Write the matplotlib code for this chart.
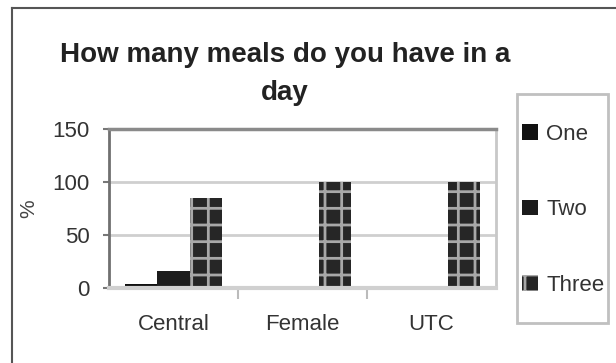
import matplotlib.pyplot as plt
import numpy as np
from matplotlib.lines import Line2D
from matplotlib.patches import Rectangle

plt.rcParams['font.family'] = ['Liberation Sans', 'DejaVu Sans']
plt.rcParams['hatch.linewidth'] = 2.0

groups = ['Central', 'Female', 'UTC']
series = ['One', 'Two', 'Three']
one = [4, 0, 0]
two = [16, 0, 0]
three = [85, 100, 100]
yticks = [0, 50, 100, 150]

fig = plt.figure(figsize=(6.16, 3.63), dpi=100)
ax = fig.add_axes([109 / 616, 75 / 363, 387 / 616, 159 / 363])

x = np.arange(len(groups))
w = 0.25
b1 = ax.bar(x - w, one, w, color='#111111', label='One')
b2 = ax.bar(x, two, w, color='#1c1c1c', label='Two')
b3 = ax.bar(x + w, three, w, color='#262626', edgecolor='#a8a8a8',
            hatch='+', linewidth=0, label='Three')

ax.set_xlim(-0.5, len(groups) - 0.5)
ax.set_ylim(0, 150)
ax.set_yticks(yticks)
ax.set_yticklabels([str(v) for v in yticks], fontsize=16, color='#333333')
ax.set_xticks(x)
ax.set_xticklabels(groups, fontsize=16, color='#333333')
ax.set_xticks([0.5, 1.5], minor=True)
ax.tick_params(axis='x', which='major', length=0, pad=19)
ax.tick_params(axis='x', which='minor', length=8, width=1.5, color='#bbbbbb')
ax.tick_params(axis='y', length=4, width=1.5, color='#777777', pad=10)

ax.yaxis.grid(True, color='#cfcfcf', linewidth=2)
ax.set_axisbelow(True)
ax.spines['left'].set_color('#707070')
ax.spines['left'].set_linewidth(2)
ax.spines['top'].set_color('#8a8a8a')
ax.spines['top'].set_linewidth(2.5)
ax.spines['right'].set_color('#c8c8c8')
ax.spines['right'].set_linewidth(2)
ax.spines['bottom'].set_color('#d0d0d0')
ax.spines['bottom'].set_linewidth(3)

ax.set_ylabel('%', fontsize=15, color='#444444', labelpad=10)

fig.text(285 / 616, 1 - 74 / 363, 'How many meals do you have in a\nday',
         ha='center', va='center', fontsize=20, fontweight='bold',
         color='#222222', linespacing=1.65)

# legend box drawn separately so its size can be set freely
fig.add_artist(Rectangle((517 / 616, 1 - 323 / 363), 91 / 616, 229 / 363,
                         transform=fig.transFigure, fill=False,
                         edgecolor='#c0c0c0', linewidth=2))
leg = fig.legend(handles=[b1, b2, b3], labels=series,
                 loc='upper left', bbox_to_anchor=(522 / 616, 1 - 124 / 363),
                 fontsize=16, frameon=False,
                 handlelength=0.7, handleheight=0.7, handletextpad=0.4,
                 labelspacing=2.45, borderpad=0, borderaxespad=0)
for t in leg.get_texts():
    t.set_color('#333333')

# outer chart border
fig.add_artist(Line2D([12 / 616, 12 / 616], [0, 1 - 8 / 363],
                      color='#555555', linewidth=1.5))
fig.add_artist(Line2D([12 / 616, 1], [1 - 8 / 363, 1 - 8 / 363],
                      color='#555555', linewidth=1.5))

plt.savefig('out.png', dpi=100)
